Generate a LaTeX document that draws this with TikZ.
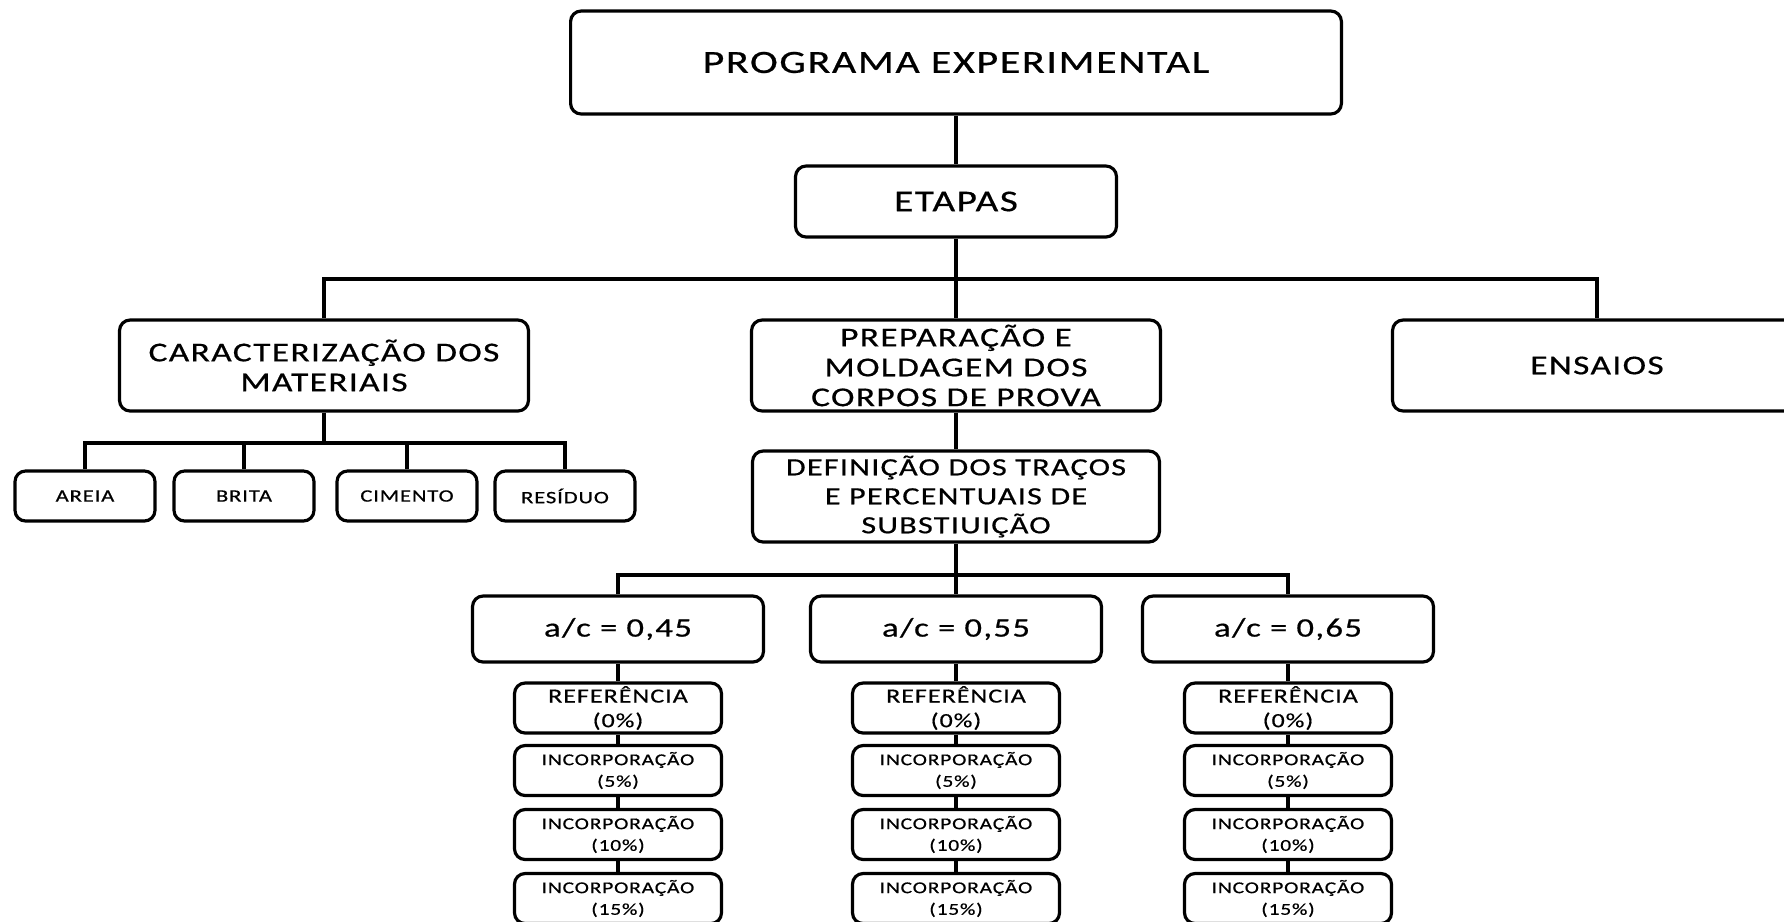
\documentclass[tikz,border=0pt]{standalone}
\usepackage{fontspec}
\setmainfont{Carlito}[FakeStretch=1.3,LetterSpace=5,FakeBold=0.6]
\begin{document}
\begin{tikzpicture}[x=0.02cm,y=-0.02cm,line width=1.8pt]
    \tikzstyle{block}=[draw,rounded corners=6pt,align=center,inner sep=0pt]
    \tikzstyle{main block}=[block,minimum width=15.42cm,minimum height=2.06cm,font=\fontsize{18.4}{20}\selectfont]
    \tikzstyle{stage block}=[block,minimum width=6.42cm,minimum height=1.42cm,font=\fontsize{17.2}{19}\selectfont]
    \tikzstyle{step block}=[block,minimum width=8.18cm,minimum height=1.82cm,font=\fontsize{15.5}{17}\selectfont]
    \tikzstyle{mat block}=[block,minimum width=2.8cm,minimum height=1cm,font=\fontsize{9.9}{12}\selectfont]
    \tikzstyle{ratio block}=[block,minimum width=5.82cm,minimum height=1.32cm,font=\fontsize{15.2}{17}\selectfont]
    \tikzstyle{ref block}=[block,minimum width=4.14cm,minimum height=1cm,font=\fontsize{11.4}{14}\selectfont]
    \tikzstyle{inc block}=[block,minimum width=4.14cm,minimum height=1cm,font=\fontsize{9.4}{12.3}\selectfont]

    \useasboundingbox (0,0) rectangle (1784,921);

    % Top of the tree
    \node[main block] (prog) at (956,62.5) {PROGRAMA EXPERIMENTAL};
    \node[stage block] (etapas) at (956,201.5) {ETAPAS};

    % The three stages
    \node[step block] (caract) at (324,365.5) {CARACTERIZAÇÃO DOS\\MATERIAIS};
    \node[step block] (prep) at (956,365.5) {PREPARAÇÃO E\\MOLDAGEM DOS\\CORPOS DE PROVA};
    \node[step block] (ensaios) at (1597,365.5) {ENSAIOS};

    % Materials
    \node[mat block] (areia) at (85,496) {AREIA};
    \node[mat block] (brita) at (244,496) {BRITA};
    \node[mat block] (cimento) at (407,496) {CIMENTO};
    \node[mat block] (residuo) at (565,496) {RESÍDUO};

    \node[block,minimum width=8.14cm,minimum height=1.82cm,font=\fontsize{14.1}{16.5}\selectfont] (defin) at (956,496.5) {DEFINIÇÃO DOS TRAÇOS\\E PERCENTUAIS DE\\SUBSTIUIÇÃO};

    % Water/cement ratios
    \node[ratio block] (ac45) at (618,629) {a/c = 0,45};
    \node[ratio block] (ac55) at (956,629) {a/c = 0,55};
    \node[ratio block] (ac65) at (1288,629) {a/c = 0,65};

    % Replacement levels, a/c = 0,45
    \node[ref block] (r45-0) at (618,708) {REFERÊNCIA\\(0\%)};
    \node[inc block] (r45-5) at (618,770.5) {INCORPORAÇÃO\\(5\%)};
    \node[inc block] (r45-10) at (618,834.5) {INCORPORAÇÃO\\(10\%)};
    \node[inc block] (r45-15) at (618,898.5) {INCORPORAÇÃO\\(15\%)};

    % Replacement levels, a/c = 0,55
    \node[ref block] (r55-0) at (956,708) {REFERÊNCIA\\(0\%)};
    \node[inc block] (r55-5) at (956,770.5) {INCORPORAÇÃO\\(5\%)};
    \node[inc block] (r55-10) at (956,834.5) {INCORPORAÇÃO\\(10\%)};
    \node[inc block] (r55-15) at (956,898.5) {INCORPORAÇÃO\\(15\%)};

    % Replacement levels, a/c = 0,65
    \node[ref block] (r65-0) at (1288,708) {REFERÊNCIA\\(0\%)};
    \node[inc block] (r65-5) at (1288,770.5) {INCORPORAÇÃO\\(5\%)};
    \node[inc block] (r65-10) at (1288,834.5) {INCORPORAÇÃO\\(10\%)};
    \node[inc block] (r65-15) at (1288,898.5) {INCORPORAÇÃO\\(15\%)};

    % Junctions of the branches
    \coordinate (stagebus) at (956,279);
    \coordinate (matbus) at (324,443);
    \coordinate (ratiobus) at (956,575);

    % Connect the nodes
    \path (prog) edge (etapas);
    \path (etapas) edge (prep);
    \draw (caract.north) |- (stagebus) -| (ensaios.north);

    \path (caract) edge (matbus);
    \draw (areia.north) |- (matbus) -| (residuo.north);
    \draw (brita.north) -- (brita.north |- matbus);
    \draw (cimento.north) -- (cimento.north |- matbus);

    \path (prep) edge (defin);
    \path (defin) edge (ac55);
    \draw (ac45.north) |- (ratiobus) -| (ac65.north);

    \path (ac45) edge (r45-0);
    \path (r45-0) edge (r45-5);
    \path (r45-5) edge (r45-10);
    \path (r45-10) edge (r45-15);
    \path (r55-0) edge (ac55);
    \path (r55-0) edge (r55-5);
    \path (r55-5) edge (r55-10);
    \path (r55-10) edge (r55-15);
    \path (ac65) edge (r65-0);
    \path (r65-0) edge (r65-5);
    \path (r65-5) edge (r65-10);
    \path (r65-10) edge (r65-15);
\end{tikzpicture}
\end{document}
